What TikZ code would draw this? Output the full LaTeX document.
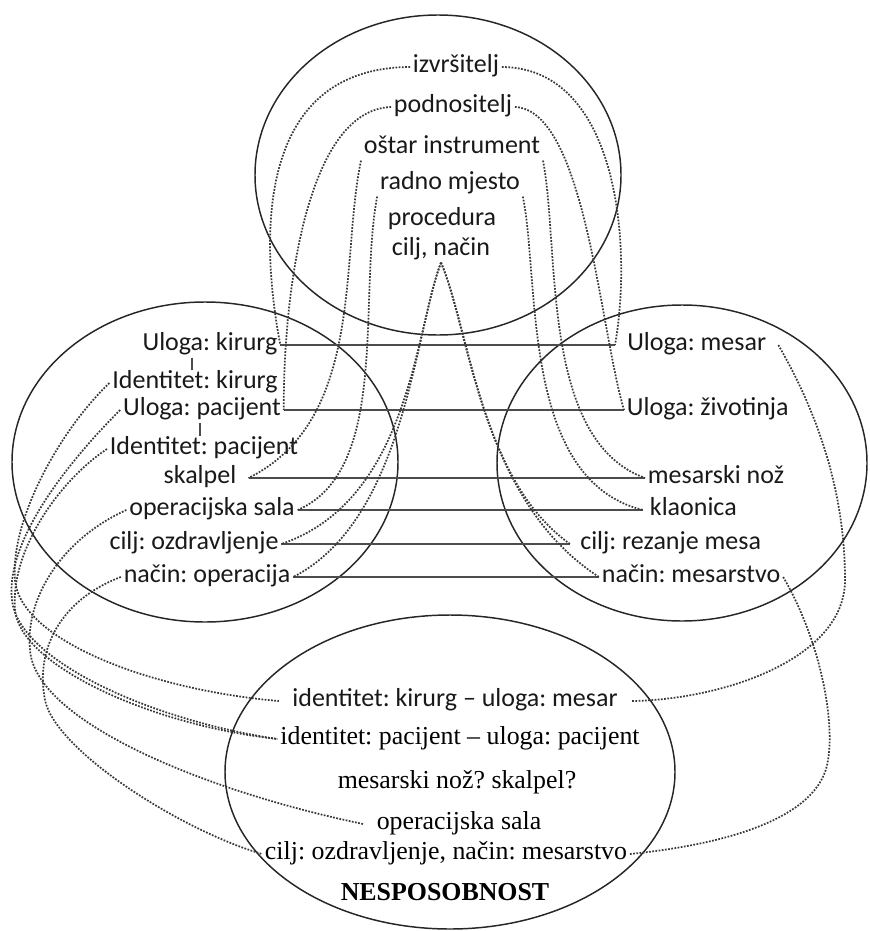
\documentclass[tikz,border=0pt]{standalone}
\usepackage{fontspec}
\setmainfont{Liberation Serif}
\newfontfamily\calfont{Carlito}
\frenchspacing
\begin{document}
\begin{tikzpicture}[x=0.75pt,y=0.75pt,yscale=-1,xscale=1,
  ell/.style={draw=black!85, line width=1.1pt},
  dots/.style={draw=black!78, line width=1.3pt, dash pattern={on 1.3pt off 1.1pt}},
  link/.style={draw=black!70, line width=1pt},
  lab/.style={font=\calfont\fontsize{19.5}{22}\selectfont, text=black!90, inner xsep=2pt, inner ysep=0pt, text height=13.6pt, text depth=4.9pt},
  blab/.style={font=\fontsize{19.4}{22}\selectfont, text=black, inner xsep=2pt, inner ysep=0pt, text height=13.6pt, text depth=4.9pt}]
                \useasboundingbox (0,0) rectangle (870,931);
                % the four circles
                \draw[ell] (438,175) ellipse [x radius=183, y radius=160];
                \draw[ell] (205,462) ellipse [x radius=193, y radius=160];
                \draw[ell] (682,463) ellipse [x radius=185, y radius=158];
                \draw[ell] (450,772) ellipse [x radius=225, y radius=157];
                % top circle
                \node[lab] (izv) at (456,67) {izvršitelj};
                \node[lab] (podn) at (453,107) {podnositelj};
                \node[lab] (ostar) at (452,148) {oštar instrument};
                \node[lab] (radno) at (450,184) {radno mjesto};
                \node[lab] (proc) at (442,220) {procedura};
                \node[lab] (cilj) at (441,250) {cilj, način};
                % left circle
                \node[lab] (ulkir) at (210,345) {Uloga: kirurg};
                \node[lab] (idkir) at (195,383) {Identitet: kirurg};
                \node[lab] (ulpac) at (202,410) {Uloga: pacijent};
                \node[lab] (idpac) at (204,449) {Identitet: pacijent};
                \node[lab, inner xsep=9pt] (skal) at (200,478) {skalpel};
                \node[lab] (opsal) at (212,510) {operacijska sala};
                \node[lab] (cilozd) at (194,544) {cilj: ozdravljenje};
                \node[lab] (nacop) at (207,577) {način: operacija};
                % right circle
                \node[lab, anchor=west, inner xsep=9pt] (ulmes) at (615,345) {Uloga: mesar};
                \node[lab, anchor=west] (ulziv) at (624,410) {Uloga: životinja};
                \node[lab, anchor=west] (mesnoz) at (645,478) {mesarski nož};
                \node[lab, anchor=west, inner xsep=5pt] (klao) at (643,510) {klaonica};
                \node[lab, anchor=west, inner xsep=7.5pt] (cilrez) at (570,544) {cilj: rezanje mesa};
                \node[lab, anchor=west] (nacmes) at (599,577) {način: mesarstvo};
                % bottom circle
                \node[lab, inner xsep=10pt] (b1) at (455,701) {identitet: kirurg \textendash{} uloga: mesar};
                \node[blab] (b2) at (460,739) {identitet: pacijent \textendash{} uloga: pacijent};
                \node[blab] (b3) at (457,783) {mesarski nož? skalpel?};
                \node[blab, inner xsep=10pt] (b4) at (459,824) {operacijska sala};
                \node[blab] (b5) at (446,854) {cilj: ozdravljenje, način: mesarstvo};
                \node[blab] (b6) at (445,895) {\bfseries NESPOSOBNOST};
                % solid links
                \draw[link] (ulkir.east) -- (ulmes.west);
                \draw[link] (ulpac.east) -- (ulziv.west);
                \draw[link] (skal.east) -- (mesnoz.west);
                \draw[link] (opsal.east) -- (klao.west);
                \draw[link] (cilozd.east) -- (cilrez.west);
                \draw[link] (nacop.east) -- (nacmes.west);
                \draw[link] ([xshift=-13.5pt]ulkir.south) -- ([xshift=-2.25pt]idkir.north);
                \draw[link] ([xshift=-1.5pt]ulpac.south) -- ([xshift=-3pt]idpac.north);
                % top circle to left circle
                \draw[dots] (izv.west) .. controls (250,68) and (262,250) .. (ulkir.east);
                \draw[dots] (podn.west) .. controls (305,110) and (283,300) .. (ulpac.east);
                \draw[dots] (ostar.south west) .. controls (340,260) and (365,420) .. (skal.east);
                \draw[dots] (radno.south west) .. controls (358,300) and (390,470) .. (opsal.east);
                \draw[dots] (cilj.south) .. controls (415,330) and (410,500) .. (cilozd.east);
                \draw[dots] (cilj.south) .. controls (415,330) and (405,520) .. (nacop.east);
                % top circle to right circle
                \draw[dots] (izv.east) .. controls (620,68) and (632,250) .. (ulmes.west);
                \draw[dots] (podn.east) .. controls (585,110) and (600,330) .. (ulziv.west);
                \draw[dots] (ostar.south east) .. controls (560,250) and (540,440) .. (mesnoz.west);
                \draw[dots] (radno.south east) .. controls (540,280) and (520,480) .. (klao.west);
                \draw[dots] (cilj.south) .. controls (470,330) and (480,480) .. (cilrez.west);
                \draw[dots] (cilj.south) .. controls (470,330) and (480,500) .. (nacmes.west);
                % left circle to bottom circle
                \draw[dots] (idkir.west) .. controls (60,430) and (10,520) .. (15,580) .. controls (20,640) and (150,690) .. (b1.west);
                \draw[dots] (ulpac.west) .. controls (70,460) and (5,540) .. (12,600) .. controls (18,660) and (150,720) .. (b2.west);
                \draw[dots] (idpac.west) .. controls (60,480) and (10,550) .. (15,610) .. controls (20,665) and (150,725) .. (b2.west);
                \draw[dots] (opsal.west) .. controls (60,540) and (25,600) .. (30,650) .. controls (35,720) and (200,790) .. (b4.west);
                \draw[dots] (nacop.west) .. controls (60,600) and (35,650) .. (45,700) .. controls (55,750) and (180,830) .. (b5.west);
                % right circle to bottom circle
                \draw[dots] (ulmes.east) .. controls (810,400) and (845,480) .. (845,580) .. controls (845,660) and (720,700) .. (b1.east);
                \draw[dots] (nacmes.east) .. controls (820,640) and (835,720) .. (828,760) .. controls (820,820) and (720,845) .. (b5.east);
            \end{tikzpicture}
\end{document}
